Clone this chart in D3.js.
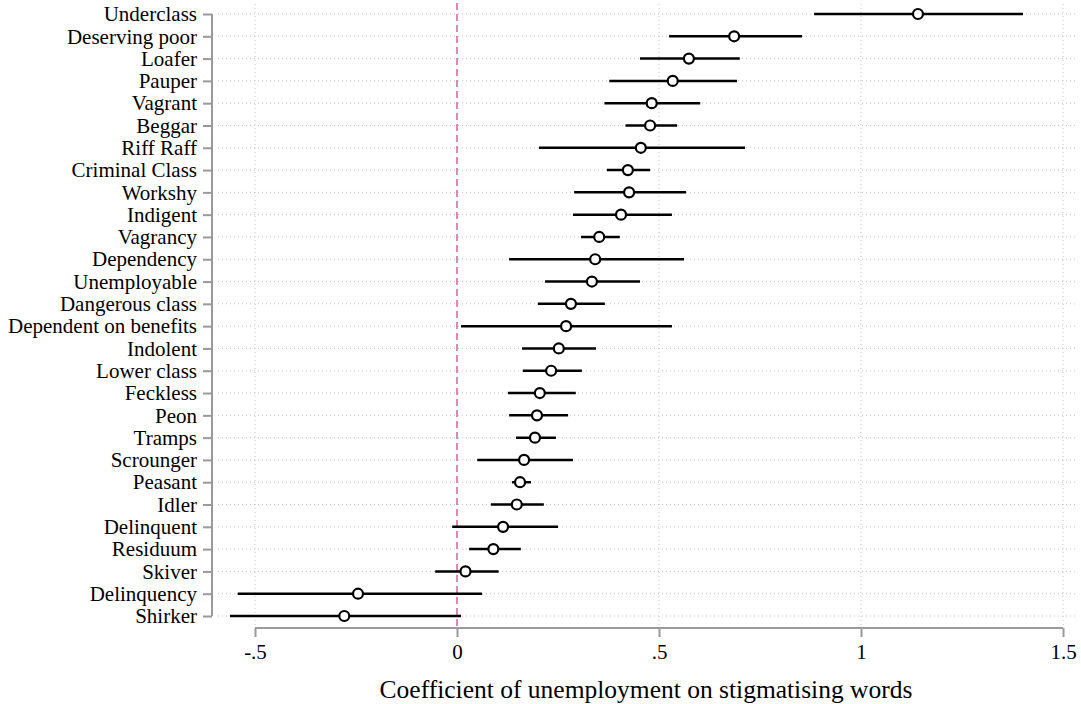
<!DOCTYPE html>
<html>
<head>
<meta charset="utf-8">
<script src="https://cdn.jsdelivr.net/npm/d3@7"></script>
<style>
  body { margin: 0; background: #fff; }
  text { font-family: "Liberation Serif", "Times New Roman", serif; fill: #000; }
</style>
</head>
<body>
<div id="chart"></div>
<script>
(function() {

    var width = 1081,
    height = 704;

    // words, top to bottom
    var words = ["Underclass", "Deserving poor", "Loafer", "Pauper", "Vagrant", "Beggar",
        "Riff Raff", "Criminal Class", "Workshy", "Indigent", "Vagrancy", "Dependency",
        "Unemployable", "Dangerous class", "Dependent on benefits", "Indolent", "Lower class",
        "Feckless", "Peon", "Tramps", "Scrounger", "Peasant", "Idler", "Delinquent",
        "Residuum", "Skiver", "Delinquency", "Shirker"]

    var coef = [1.141, 0.686, 0.574, 0.534, 0.482, 0.478, 0.455, 0.423, 0.426, 0.406,
        0.352, 0.342, 0.334, 0.282, 0.270, 0.252, 0.233, 0.205, 0.198, 0.193,
        0.166, 0.156, 0.148, 0.114, 0.090, 0.021, -0.245, -0.279]

    var lower = [0.884, 0.525, 0.453, 0.377, 0.365, 0.417, 0.203, 0.371, 0.290, 0.287,
        0.307, 0.129, 0.218, 0.200, 0.010, 0.161, 0.163, 0.126, 0.129, 0.146,
        0.050, 0.136, 0.084, -0.012, 0.030, -0.054, -0.543, -0.562]

    var upper = [1.401, 0.854, 0.700, 0.693, 0.602, 0.545, 0.713, 0.478, 0.567, 0.532,
        0.403, 0.562, 0.453, 0.366, 0.532, 0.344, 0.309, 0.294, 0.275, 0.245,
        0.287, 0.183, 0.215, 0.250, 0.158, 0.103, 0.062, 0.010]

    var xTicks = [-0.5, 0, 0.5, 1, 1.5]
    var xTickLabels = ["-.5", "0", ".5", "1", "1.5"]

    var data = words.map(function(w, i) {
        return {word: w, b: coef[i], lo: lower[i], hi: upper[i]}
    })

    var svg = d3.select("#chart")
        .append("svg")
        .attr("width", width)
        .attr("height", height)

    var xScale = d3.scaleLinear().domain([0, 1]).range([457, 861])
    var yScale = d3.scalePoint().domain(words).range([14, 616])

    var axisGrey = "#9a9a9a"

    // vertical grid (zero has the pink reference line instead)
    svg.selectAll(".vgrid")
        .data(xTicks.filter(function(t) { return t !== 0 }))
        .enter().append("line")
        .attr("class", "vgrid")
        .attr("x1", function(d) { return xScale(d) })
        .attr("x2", function(d) { return xScale(d) })
        .attr("y1", 4)
        .attr("y2", 628)
        .attr("stroke", "#c4c4c4")
        .attr("stroke-width", 1)
        .attr("stroke-dasharray", "1,3")

    // horizontal grid per word
    svg.selectAll(".hgrid")
        .data(words)
        .enter().append("line")
        .attr("class", "hgrid")
        .attr("x1", 218)
        .attr("x2", 1078)
        .attr("y1", function(d) { return yScale(d) })
        .attr("y2", function(d) { return yScale(d) })
        .attr("stroke", "#c4c4c4")
        .attr("stroke-width", 1)
        .attr("stroke-dasharray", "1,3")

    // zero line
    svg.append("line")
        .attr("x1", xScale(0))
        .attr("x2", xScale(0))
        .attr("y1", 3)
        .attr("y2", 628)
        .attr("stroke", "#d6609e")
        .attr("stroke-width", 1.5)
        .attr("stroke-dasharray", "7,4")

    // x axis
    var xAxis = d3.axisBottom(xScale)
        .tickValues(xTicks)
        .tickFormat(function(d, i) { return xTickLabels[i] })
        .tickSize(9)
        .tickPadding(7)
        .tickSizeOuter(0)

    var gx = svg.append("g")
        .attr("transform", "translate(0,628)")
        .call(xAxis)
    gx.select(".domain").attr("stroke", axisGrey).attr("stroke-width", 2)
        .attr("d", "M" + xScale(-0.5) + ",0H" + xScale(1.5))
    gx.selectAll(".tick line").attr("stroke", axisGrey).attr("stroke-width", 2)
    gx.selectAll(".tick text")
        .attr("font-family", "Liberation Serif")
        .attr("font-size", 21)
        .attr("fill", "#000")

    // y axis
    var yAxis = d3.axisLeft(yScale)
        .tickSize(9)
        .tickPadding(6)
        .tickSizeOuter(0)

    var gy = svg.append("g")
        .attr("transform", "translate(212,0)")
        .call(yAxis)
    gy.select(".domain").attr("stroke", axisGrey).attr("stroke-width", 2)
        .attr("d", "M0," + yScale(words[0]) + "V" + yScale(words[words.length - 1]))
    gy.selectAll(".tick line").attr("stroke", axisGrey).attr("stroke-width", 2)
    gy.selectAll(".tick text")
        .attr("font-family", "Liberation Serif")
        .attr("font-size", 21)
        .attr("fill", "#000")

    // confidence intervals
    svg.selectAll(".ci")
        .data(data)
        .enter().append("line")
        .attr("class", "ci")
        .attr("x1", function(d) { return xScale(d.lo) })
        .attr("x2", function(d) { return xScale(d.hi) })
        .attr("y1", function(d) { return yScale(d.word) })
        .attr("y2", function(d) { return yScale(d.word) })
        .attr("stroke", "#000")
        .attr("stroke-width", 2.5)

    // point estimates
    svg.selectAll(".pt")
        .data(data)
        .enter().append("circle")
        .attr("class", "pt")
        .attr("cx", function(d) { return xScale(d.b) })
        .attr("cy", function(d) { return yScale(d.word) })
        .attr("r", 5)
        .attr("fill", "#fff")
        .attr("stroke", "#000")
        .attr("stroke-width", 2.2)

    svg.append("text")
        .attr("x", 646)
        .attr("y", 698)
        .attr("text-anchor", "middle")
        .attr("font-size", 25.5)
        .text("Coefficient of unemployment on stigmatising words")

})();
</script>
</body>
</html>
